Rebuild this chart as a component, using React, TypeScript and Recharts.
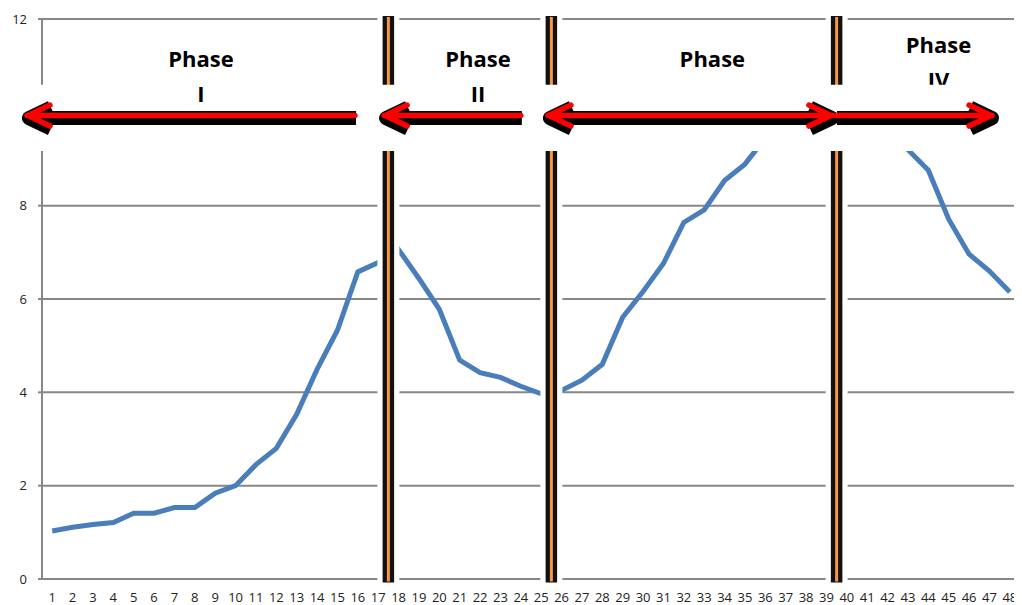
import React from 'react';
import { LineChart, Line, XAxis, YAxis, CartesianGrid, ReferenceLine, ReferenceArea, ReferenceDot } from 'recharts';

// x categories (1..48)
const categories = [
  '1', '2', '3', '4', '5', '6', '7', '8', '9', '10', '11', '12', '13', '14', '15', '16',
  '17', '18', '19', '20', '21', '22', '23', '24', '25', '26', '27', '28', '29', '30', '31', '32',
  '33', '34', '35', '36', '37', '38', '39', '40', '41', '42', '43', '44', '45', '46', '47', '48',
];

// series values (36-42 hidden behind the arrow band)
const values = [
  1.03, 1.11, 1.17, 1.21, 1.41, 1.41, 1.53, 1.53, 1.84, 2.0,
  2.45, 2.8, 3.53, 4.49, 5.33, 6.58, 6.78, 7.06, 6.44, 5.78,
  4.69, 4.42, 4.32, 4.13, 3.97, 4.04, 4.26, 4.6, 5.61, 6.16,
  6.76, 7.64, 7.91, 8.54, 8.89, 9.45, 9.8, 10.1, 10.3, 10.3,
  10.1, 9.7, 9.2, 8.76, 7.71, 6.96, 6.6, 6.15,
];

const yTicks = [0, 2, 4, 6, 8, 10, 12];

// phase dividers sit on the category boundaries
const phaseBreaks = [17.5, 25.5, 39.5];
const phaseNumbers = ['I', 'II', 'III', 'IV'];

const data = categories.map((c, i) => ({ x: i + 1, label: c, v: values[i] }));
const boundaryTicks = [0.5, ...data.map(d => d.x + 0.5)];

// annotation placement (text boxes / arrows drawn over the chart)
const labelSpots = [
  { x: 8.3, y: 10.98, front: true },
  { x: 21.9, y: 10.98, front: true },
  { x: 33.4, y: 10.98, front: false },
  { x: 44.5, y: 11.27, front: false },
];
const arrowSpans = [
  { from: -0.24, to: 15.86, left: true, right: false },
  { from: 17.29, to: 24.0, left: true, right: false },
  { from: 25.33, to: 39.27, left: true, right: true },
  { from: 39.47, to: 47.13, left: false, right: true },
];
const arrowY = 9.93;
const band = [9.17, 10.59];

const FONT = '"Open Sans", "Liberation Sans", sans-serif';
const GRID = '#878787';
const tickStyle = { fontSize: 13, fill: '#222', fontFamily: FONT };

const Divider = (props: any) => {
  const { x1, y1, y2 } = props;
  const top = Math.min(y1, y2) - 3;
  const bot = Math.max(y1, y2) + 3.5;
  return (
    <g>
      <line x1={x1} x2={x1} y1={top} y2={bot} stroke="#fff" strokeWidth={22} />
      <line x1={x1} x2={x1} y1={top} y2={bot} stroke="#111" strokeWidth={11.5} />
      <line x1={x1} x2={x1} y1={top + 1} y2={bot - 1} stroke="#f79646" strokeWidth={3} />
    </g>
  );
};

const makeArrow = (left: boolean, right: boolean) => (props: any) => {
  const { x1, x2, y1 } = props;
  const a = Math.min(x1, x2);
  const b = Math.max(x1, x2);
  const y = y1;
  let d = `M${a},${y}L${b},${y}`;
  if (left) d += `M${a + 23},${y - 10.5}L${a + 1},${y}L${a + 23},${y + 10.5}`;
  if (right) d += `M${b - 23},${y - 10.5}L${b - 1},${y}L${b - 23},${y + 10.5}`;
  return (
    <g>
      <path d={d} transform="translate(1,2.5)" stroke="#000" strokeWidth={14} fill="none" strokeLinejoin="round" />
      <path d={d} stroke="#ff0000" strokeWidth={5.5} fill="none" strokeLinecap="round" strokeLinejoin="round" />
    </g>
  );
};

const makeLabel = (second: string) => (props: any) => {
  const { cx, cy } = props;
  return (
    <text x={cx} y={cy} textAnchor="middle" fontFamily={FONT} fontWeight={700} fontSize={22} fill="#000">
      <tspan x={cx}>Phase</tspan>
      <tspan x={cx} dy={35}>{second}</tspan>
    </text>
  );
};

// y tick: label + small tick mark; the one under the white band is covered in the original
const YTick = (props: any) => {
  const { x, y, payload } = props;
  if (payload.value > band[0] && payload.value < band[1]) return <g />;
  return (
    <g>
      <line x1={x + 11} x2={x + 15} y1={y} y2={y} stroke={GRID} strokeWidth={2} />
      <text x={x} y={y} dy="0.36em" textAnchor="end" {...tickStyle}>{payload.value}</text>
    </g>
  );
};

export default function App() {
  const phaseLabel = (i: number) => (
    <ReferenceDot
      key={'lbl' + i}
      x={labelSpots[i].x}
      y={labelSpots[i].y}
      r={0}
      ifOverflow="visible"
      shape={makeLabel(phaseNumbers[i])}
      zIndex={labelSpots[i].front ? 1100 : 800}
    />
  );

  return (
    <div style={{ width: 1014, height: 597 }}>
      <LineChart width={1014} height={597} data={data} margin={{ top: 11, right: 2, bottom: 0, left: 0 }}>
        <CartesianGrid vertical={false} stroke={GRID} strokeWidth={2} />
        <XAxis
          xAxisId="marks"
          type="number"
          dataKey="x"
          domain={[0.5, 48.5]}
          ticks={boundaryTicks}
          interval={0}
          tick={false}
          tickSize={5}
          tickLine={{ stroke: GRID, strokeWidth: 2 }}
          axisLine={false}
          height={0}
          allowDataOverflow
        />
        <XAxis
          type="number"
          dataKey="x"
          domain={[0.5, 48.5]}
          ticks={data.map(d => d.x)}
          interval={0}
          tickFormatter={(v: number) => categories[v - 1]}
          tickLine={false}
          axisLine={false}
          tickSize={0}
          tickMargin={14}
          height={26}
          tick={tickStyle}
          allowDataOverflow
        />
        <YAxis
          type="number"
          domain={[0, 12]}
          ticks={yTicks}
          interval={0}
          width={34}
          tickSize={4}
          tickMargin={11}
          tickLine={false}
          axisLine={false}
          tick={<YTick />}
        />
        {/* axis lines drawn as reference lines so the band and dividers can cover them */}
        <ReferenceLine x={0.5} stroke={GRID} strokeWidth={2} zIndex={450} />
        <ReferenceLine y={0} stroke={GRID} strokeWidth={2} zIndex={450} />
        <Line
          type="linear"
          dataKey="v"
          stroke="#4a7ebb"
          strokeWidth={5}
          dot={false}
          activeDot={false}
          isAnimationActive={false}
        />
        {phaseBreaks.map(b => (
          <ReferenceLine key={'br' + b} x={b} shape={Divider} zIndex={700} />
        ))}
        {phaseLabel(2)}
        {phaseLabel(3)}
        <ReferenceArea
          x1={-1.6}
          x2={48.5}
          y1={band[0]}
          y2={band[1]}
          fill="#fff"
          fillOpacity={1}
          stroke="none"
          ifOverflow="visible"
          zIndex={900}
        />
        {arrowSpans.map((a, i) => (
          <ReferenceLine
            key={'ar' + i}
            segment={[{ x: a.from, y: arrowY }, { x: a.to, y: arrowY }]}
            ifOverflow="visible"
            shape={makeArrow(a.left, a.right)}
            zIndex={1000}
          />
        ))}
        {phaseLabel(0)}
        {phaseLabel(1)}
      </LineChart>
    </div>
  );
}
